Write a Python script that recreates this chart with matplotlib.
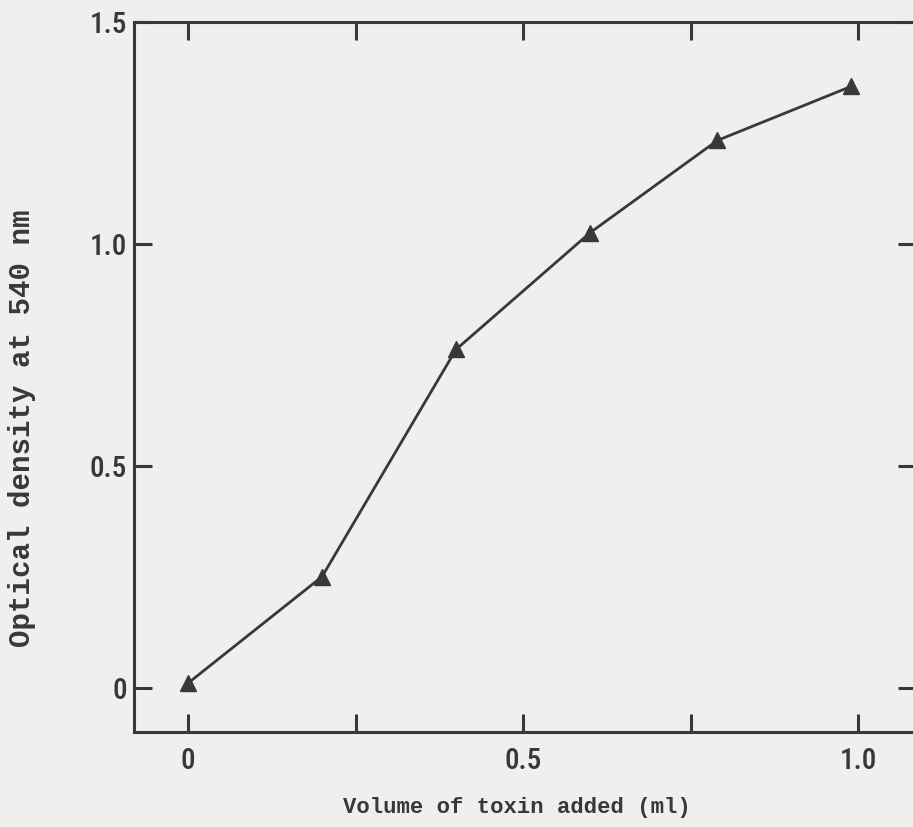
import matplotlib.pyplot as plt
import matplotlib.font_manager as fm

# Toxin dose-response: optical density vs volume of toxin
volume_ml = [0.0, 0.2, 0.4, 0.6, 0.79, 0.99]
optical_density = [0.01, 0.25, 0.762, 1.025, 1.233, 1.355]

x_ticks = [0, 0.25, 0.5, 0.75, 1.0]
x_ticklabels = ['0', '', '0.5', '', '1.0']
y_ticks = [0, 0.5, 1.0, 1.5]
y_ticklabels = ['0', '0.5', '1.0', '1.5']

ink = '#383838'
paper = '#f0efed'

installed = {f.name for f in fm.fontManager.ttflist}
num_font = 'DejaVu Sans'
for name in ['Liberation Sans Narrow', 'Roboto Condensed', 'Roboto']:
    if name in installed:
        num_font = name
        break

fig = plt.figure(figsize=(9.13, 8.27), dpi=100, facecolor=paper)
ax = fig.add_axes([0.1468, 0.1149, 0.8565, 0.8585])
ax.set_facecolor(paper)

ax.plot(volume_ml, optical_density, color=ink, lw=2.0, marker='^',
        ms=12, mfc=ink, mec=ink, clip_on=False, zorder=3)

ax.set_xlim(-0.0806, 1.0866)
ax.set_ylim(-0.1, 1.5)

ax.set_xticks(x_ticks)
ax.set_xticklabels(x_ticklabels)
ax.set_yticks(y_ticks)
ax.set_yticklabels(y_ticklabels)

ax.tick_params(axis='both', direction='in', length=13, width=2.2, color=ink,
               top=True, right=True, labelcolor=ink)
ax.tick_params(axis='x', pad=11)
ax.tick_params(axis='y', pad=5)
for lab in ax.get_xticklabels() + ax.get_yticklabels():
    lab.set_fontfamily(num_font)
    lab.set_fontweight('medium')
    lab.set_fontsize(21)

for side in ['left', 'bottom', 'top', 'right']:
    ax.spines[side].set_color(ink)
    ax.spines[side].set_linewidth(2.2)

ax.set_xlabel('Volume of toxin added (ml)', fontfamily='Liberation Mono',
              fontweight='bold', fontsize=16, color=ink)
ax.set_ylabel('Optical density at 540 nm', fontfamily='Liberation Mono',
              fontweight='bold', fontsize=21, color=ink)
ax.xaxis.set_label_coords(0.49, -0.107)
ax.yaxis.set_label_coords(-0.143, 0.428)
ax.xaxis.label.set_va('center')
ax.yaxis.label.set_va('center')

fig.savefig('out.png', dpi=100, facecolor=paper)
